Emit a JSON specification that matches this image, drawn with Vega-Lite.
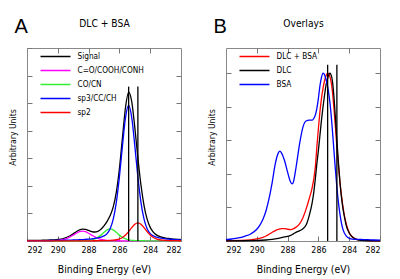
{
  "$schema": "https://vega.github.io/schema/vega-lite/v6.json",
  "background": "white",
  "padding": {"left": 8, "top": 16, "right": 0, "bottom": 0},
  "config": {
    "font": "DejaVu Sans Condensed, Liberation Sans",
    "view": {"stroke": "#888888", "strokeWidth": 1},
    "axis": {
      "domain": false, "grid": false, "tickColor": "#777777", "tickSize": -5, "tickWidth": 1,
      "labelFont": "DejaVu Sans Condensed, Liberation Sans", "titleFont": "DejaVu Sans Condensed, Liberation Sans",
      "labelFontSize": 8.8, "labelColor": "black", "titleFontSize": 10.4, "titleFontWeight": "normal", "titleColor": "black"
    },
    "legend": {
      "orient": "none", "title": null, "symbolType": "M-3,0H3", "symbolSize": 100, "symbolStrokeWidth": 1.5,
      "labelFont": "DejaVu Sans Condensed, Liberation Sans",
      "labelOffset": 16, "labelFontSize": 8.2, "labelColor": "black", "rowPadding": 4, "padding": 0
    },
    "title": {"font": "Liberation Sans", "fontSize": 20, "fontWeight": "normal", "anchor": "start", "frame": "bounds", "color": "black"}
  },
  "datasets": {
    "a": [
      {"e":292.0,"v":0.019,"s":"Signal"},{"e":291.8,"v":0.019,"s":"Signal"},{"e":291.6,"v":0.021,"s":"Signal"},{"e":291.4,"v":0.023,"s":"Signal"},{"e":291.2,"v":0.025,"s":"Signal"},{"e":291.0,"v":0.027,"s":"Signal"},{"e":290.8,"v":0.030,"s":"Signal"},{"e":290.6,"v":0.034,"s":"Signal"},{"e":290.4,"v":0.038,"s":"Signal"},{"e":290.2,"v":0.044,"s":"Signal"},{"e":290.0,"v":0.054,"s":"Signal"},{"e":289.8,"v":0.069,"s":"Signal"},{"e":289.6,"v":0.096,"s":"Signal"},{"e":289.4,"v":0.137,"s":"Signal"},{"e":289.2,"v":0.192,"s":"Signal"},{"e":289.0,"v":0.262,"s":"Signal"},{"e":288.8,"v":0.337,"s":"Signal"},{"e":288.6,"v":0.399,"s":"Signal"},{"e":288.4,"v":0.431,"s":"Signal"},{"e":288.2,"v":0.421,"s":"Signal"},{"e":288.0,"v":0.383,"s":"Signal"},{"e":287.8,"v":0.344,"s":"Signal"},{"e":287.6,"v":0.326,"s":"Signal"},{"e":287.4,"v":0.351,"s":"Signal"},{"e":287.2,"v":0.426,"s":"Signal"},{"e":287.0,"v":0.549,"s":"Signal"},{"e":286.8,"v":0.713,"s":"Signal"},{"e":286.6,"v":0.923,"s":"Signal"},{"e":286.4,"v":1.235,"s":"Signal"},{"e":286.2,"v":1.771,"s":"Signal"},{"e":286.0,"v":2.621,"s":"Signal"},{"e":285.8,"v":3.76,"s":"Signal"},{"e":285.6,"v":4.86,"s":"Signal"},{"e":285.4,"v":5.40,"s":"Signal"},{"e":285.2,"v":5.06,"s":"Signal"},{"e":285.0,"v":4.12,"s":"Signal"},{"e":284.8,"v":3.02,"s":"Signal"},{"e":284.6,"v":2.03,"s":"Signal"},{"e":284.4,"v":1.286,"s":"Signal"},{"e":284.2,"v":0.794,"s":"Signal"},{"e":284.0,"v":0.495,"s":"Signal"},{"e":283.8,"v":0.321,"s":"Signal"},{"e":283.6,"v":0.222,"s":"Signal"},{"e":283.4,"v":0.165,"s":"Signal"},{"e":283.2,"v":0.130,"s":"Signal"},{"e":283.0,"v":0.107,"s":"Signal"},{"e":282.8,"v":0.091,"s":"Signal"},{"e":282.6,"v":0.078,"s":"Signal"},{"e":282.4,"v":0.067,"s":"Signal"},{"e":282.2,"v":0.059,"s":"Signal"},{"e":282.0,"v":0.053,"s":"Signal"},
      {"e":292.0,"v":0.004,"s":"C=O/COOH/CONH"},{"e":291.8,"v":0.004,"s":"C=O/COOH/CONH"},{"e":291.6,"v":0.005,"s":"C=O/COOH/CONH"},{"e":291.4,"v":0.006,"s":"C=O/COOH/CONH"},{"e":291.2,"v":0.006,"s":"C=O/COOH/CONH"},{"e":291.0,"v":0.007,"s":"C=O/COOH/CONH"},{"e":290.8,"v":0.009,"s":"C=O/COOH/CONH"},{"e":290.6,"v":0.010,"s":"C=O/COOH/CONH"},{"e":290.4,"v":0.013,"s":"C=O/COOH/CONH"},{"e":290.2,"v":0.017,"s":"C=O/COOH/CONH"},{"e":290.0,"v":0.024,"s":"C=O/COOH/CONH"},{"e":289.8,"v":0.037,"s":"C=O/COOH/CONH"},{"e":289.6,"v":0.060,"s":"C=O/COOH/CONH"},{"e":289.4,"v":0.097,"s":"C=O/COOH/CONH"},{"e":289.2,"v":0.149,"s":"C=O/COOH/CONH"},{"e":289.0,"v":0.214,"s":"C=O/COOH/CONH"},{"e":288.8,"v":0.282,"s":"C=O/COOH/CONH"},{"e":288.6,"v":0.338,"s":"C=O/COOH/CONH"},{"e":288.4,"v":0.360,"s":"C=O/COOH/CONH"},{"e":288.2,"v":0.338,"s":"C=O/COOH/CONH"},{"e":288.0,"v":0.282,"s":"C=O/COOH/CONH"},{"e":287.8,"v":0.214,"s":"C=O/COOH/CONH"},{"e":287.6,"v":0.149,"s":"C=O/COOH/CONH"},{"e":287.4,"v":0.097,"s":"C=O/COOH/CONH"},{"e":287.2,"v":0.060,"s":"C=O/COOH/CONH"},{"e":287.0,"v":0.037,"s":"C=O/COOH/CONH"},{"e":286.8,"v":0.024,"s":"C=O/COOH/CONH"},{"e":286.6,"v":0.017,"s":"C=O/COOH/CONH"},{"e":286.4,"v":0.013,"s":"C=O/COOH/CONH"},{"e":286.2,"v":0.010,"s":"C=O/COOH/CONH"},{"e":286.0,"v":0.009,"s":"C=O/COOH/CONH"},{"e":285.8,"v":0.007,"s":"C=O/COOH/CONH"},{"e":285.6,"v":0.006,"s":"C=O/COOH/CONH"},{"e":285.4,"v":0.006,"s":"C=O/COOH/CONH"},{"e":285.2,"v":0.005,"s":"C=O/COOH/CONH"},{"e":285.0,"v":0.004,"s":"C=O/COOH/CONH"},{"e":284.8,"v":0.004,"s":"C=O/COOH/CONH"},{"e":284.6,"v":0.004,"s":"C=O/COOH/CONH"},{"e":284.4,"v":0.003,"s":"C=O/COOH/CONH"},{"e":284.2,"v":0.003,"s":"C=O/COOH/CONH"},{"e":284.0,"v":0.003,"s":"C=O/COOH/CONH"},{"e":283.8,"v":0.002,"s":"C=O/COOH/CONH"},{"e":283.6,"v":0.002,"s":"C=O/COOH/CONH"},{"e":283.4,"v":0.002,"s":"C=O/COOH/CONH"},{"e":283.2,"v":0.002,"s":"C=O/COOH/CONH"},{"e":283.0,"v":0.002,"s":"C=O/COOH/CONH"},{"e":282.8,"v":0.002,"s":"C=O/COOH/CONH"},{"e":282.6,"v":0.001,"s":"C=O/COOH/CONH"},{"e":282.4,"v":0.001,"s":"C=O/COOH/CONH"},{"e":282.2,"v":0.001,"s":"C=O/COOH/CONH"},{"e":282.0,"v":0.001,"s":"C=O/COOH/CONH"},
      {"e":292.0,"v":0.002,"s":"CO/CN"},{"e":291.0,"v":0.002,"s":"CO/CN"},{"e":290.6,"v":0.003,"s":"CO/CN"},{"e":290.2,"v":0.003,"s":"CO/CN"},{"e":290.0,"v":0.004,"s":"CO/CN"},{"e":289.8,"v":0.004,"s":"CO/CN"},{"e":289.6,"v":0.005,"s":"CO/CN"},{"e":289.4,"v":0.006,"s":"CO/CN"},{"e":289.2,"v":0.006,"s":"CO/CN"},{"e":289.0,"v":0.007,"s":"CO/CN"},{"e":288.8,"v":0.009,"s":"CO/CN"},{"e":288.6,"v":0.010,"s":"CO/CN"},{"e":288.4,"v":0.013,"s":"CO/CN"},{"e":288.2,"v":0.017,"s":"CO/CN"},{"e":288.0,"v":0.025,"s":"CO/CN"},{"e":287.8,"v":0.042,"s":"CO/CN"},{"e":287.6,"v":0.074,"s":"CO/CN"},{"e":287.4,"v":0.130,"s":"CO/CN"},{"e":287.2,"v":0.213,"s":"CO/CN"},{"e":287.0,"v":0.313,"s":"CO/CN"},{"e":286.8,"v":0.402,"s":"CO/CN"},{"e":286.6,"v":0.440,"s":"CO/CN"},{"e":286.4,"v":0.402,"s":"CO/CN"},{"e":286.2,"v":0.313,"s":"CO/CN"},{"e":286.0,"v":0.213,"s":"CO/CN"},{"e":285.8,"v":0.130,"s":"CO/CN"},{"e":285.6,"v":0.074,"s":"CO/CN"},{"e":285.4,"v":0.042,"s":"CO/CN"},{"e":285.2,"v":0.025,"s":"CO/CN"},{"e":285.0,"v":0.017,"s":"CO/CN"},{"e":284.8,"v":0.013,"s":"CO/CN"},{"e":284.6,"v":0.010,"s":"CO/CN"},{"e":284.4,"v":0.009,"s":"CO/CN"},{"e":284.2,"v":0.007,"s":"CO/CN"},{"e":284.0,"v":0.006,"s":"CO/CN"},{"e":283.8,"v":0.006,"s":"CO/CN"},{"e":283.6,"v":0.005,"s":"CO/CN"},{"e":283.4,"v":0.004,"s":"CO/CN"},{"e":283.2,"v":0.004,"s":"CO/CN"},{"e":283.0,"v":0.003,"s":"CO/CN"},{"e":282.6,"v":0.003,"s":"CO/CN"},{"e":282.4,"v":0.002,"s":"CO/CN"},{"e":282.0,"v":0.002,"s":"CO/CN"},
      {"e":292.0,"v":0.011,"s":"sp3/CC/CH"},{"e":291.8,"v":0.011,"s":"sp3/CC/CH"},{"e":291.6,"v":0.012,"s":"sp3/CC/CH"},{"e":291.4,"v":0.013,"s":"sp3/CC/CH"},{"e":291.2,"v":0.014,"s":"sp3/CC/CH"},{"e":291.0,"v":0.015,"s":"sp3/CC/CH"},{"e":290.8,"v":0.016,"s":"sp3/CC/CH"},{"e":290.6,"v":0.018,"s":"sp3/CC/CH"},{"e":290.4,"v":0.019,"s":"sp3/CC/CH"},{"e":290.2,"v":0.021,"s":"sp3/CC/CH"},{"e":290.0,"v":0.023,"s":"sp3/CC/CH"},{"e":289.8,"v":0.025,"s":"sp3/CC/CH"},{"e":289.6,"v":0.027,"s":"sp3/CC/CH"},{"e":289.4,"v":0.030,"s":"sp3/CC/CH"},{"e":289.2,"v":0.033,"s":"sp3/CC/CH"},{"e":289.0,"v":0.037,"s":"sp3/CC/CH"},{"e":288.8,"v":0.041,"s":"sp3/CC/CH"},{"e":288.6,"v":0.046,"s":"sp3/CC/CH"},{"e":288.4,"v":0.052,"s":"sp3/CC/CH"},{"e":288.2,"v":0.060,"s":"sp3/CC/CH"},{"e":288.0,"v":0.069,"s":"sp3/CC/CH"},{"e":287.8,"v":0.080,"s":"sp3/CC/CH"},{"e":287.6,"v":0.094,"s":"sp3/CC/CH"},{"e":287.4,"v":0.114,"s":"sp3/CC/CH"},{"e":287.2,"v":0.141,"s":"sp3/CC/CH"},{"e":287.0,"v":0.185,"s":"sp3/CC/CH"},{"e":286.8,"v":0.270,"s":"sp3/CC/CH"},{"e":286.6,"v":0.444,"s":"sp3/CC/CH"},{"e":286.4,"v":0.790,"s":"sp3/CC/CH"},{"e":286.2,"v":1.403,"s":"sp3/CC/CH"},{"e":286.0,"v":2.325,"s":"sp3/CC/CH"},{"e":285.8,"v":3.457,"s":"sp3/CC/CH"},{"e":285.6,"v":4.484,"s":"sp3/CC/CH"},{"e":285.4,"v":4.920,"s":"sp3/CC/CH"},{"e":285.2,"v":4.484,"s":"sp3/CC/CH"},{"e":285.0,"v":3.457,"s":"sp3/CC/CH"},{"e":284.8,"v":2.325,"s":"sp3/CC/CH"},{"e":284.6,"v":1.403,"s":"sp3/CC/CH"},{"e":284.4,"v":0.790,"s":"sp3/CC/CH"},{"e":284.2,"v":0.444,"s":"sp3/CC/CH"},{"e":284.0,"v":0.270,"s":"sp3/CC/CH"},{"e":283.8,"v":0.185,"s":"sp3/CC/CH"},{"e":283.6,"v":0.141,"s":"sp3/CC/CH"},{"e":283.4,"v":0.114,"s":"sp3/CC/CH"},{"e":283.2,"v":0.094,"s":"sp3/CC/CH"},{"e":283.0,"v":0.080,"s":"sp3/CC/CH"},{"e":282.8,"v":0.069,"s":"sp3/CC/CH"},{"e":282.6,"v":0.060,"s":"sp3/CC/CH"},{"e":282.4,"v":0.052,"s":"sp3/CC/CH"},{"e":282.2,"v":0.046,"s":"sp3/CC/CH"},{"e":282.0,"v":0.041,"s":"sp3/CC/CH"},
      {"e":292.0,"v":0.002,"s":"sp2"},{"e":291.4,"v":0.002,"s":"sp2"},{"e":291.2,"v":0.003,"s":"sp2"},{"e":290.0,"v":0.003,"s":"sp2"},{"e":289.6,"v":0.004,"s":"sp2"},{"e":289.0,"v":0.004,"s":"sp2"},{"e":288.8,"v":0.005,"s":"sp2"},{"e":288.6,"v":0.005,"s":"sp2"},{"e":288.4,"v":0.006,"s":"sp2"},{"e":288.2,"v":0.006,"s":"sp2"},{"e":288.0,"v":0.007,"s":"sp2"},{"e":287.8,"v":0.008,"s":"sp2"},{"e":287.6,"v":0.009,"s":"sp2"},{"e":287.4,"v":0.010,"s":"sp2"},{"e":287.2,"v":0.012,"s":"sp2"},{"e":287.0,"v":0.014,"s":"sp2"},{"e":286.8,"v":0.017,"s":"sp2"},{"e":286.6,"v":0.022,"s":"sp2"},{"e":286.4,"v":0.030,"s":"sp2"},{"e":286.2,"v":0.045,"s":"sp2"},{"e":286.0,"v":0.074,"s":"sp2"},{"e":285.8,"v":0.128,"s":"sp2"},{"e":285.6,"v":0.216,"s":"sp2"},{"e":285.4,"v":0.340,"s":"sp2"},{"e":285.2,"v":0.484,"s":"sp2"},{"e":285.0,"v":0.608,"s":"sp2"},{"e":284.8,"v":0.660,"s":"sp2"},{"e":284.6,"v":0.608,"s":"sp2"},{"e":284.4,"v":0.484,"s":"sp2"},{"e":284.2,"v":0.340,"s":"sp2"},{"e":284.0,"v":0.216,"s":"sp2"},{"e":283.8,"v":0.128,"s":"sp2"},{"e":283.6,"v":0.074,"s":"sp2"},{"e":283.4,"v":0.045,"s":"sp2"},{"e":283.2,"v":0.030,"s":"sp2"},{"e":283.0,"v":0.022,"s":"sp2"},{"e":282.8,"v":0.017,"s":"sp2"},{"e":282.6,"v":0.014,"s":"sp2"},{"e":282.4,"v":0.012,"s":"sp2"},{"e":282.2,"v":0.010,"s":"sp2"},{"e":282.0,"v":0.009,"s":"sp2"}
    ],
    "b": [
      {"e":292.0,"v":0.002,"s":"DLC + BSA"},{"e":291.0,"v":0.003,"s":"DLC + BSA"},{"e":290.4,"v":0.006,"s":"DLC + BSA"},{"e":290.0,"v":0.012,"s":"DLC + BSA"},{"e":289.6,"v":0.022,"s":"DLC + BSA"},{"e":289.4,"v":0.030,"s":"DLC + BSA"},{"e":289.2,"v":0.040,"s":"DLC + BSA"},{"e":289.0,"v":0.052,"s":"DLC + BSA"},{"e":288.8,"v":0.062,"s":"DLC + BSA"},{"e":288.6,"v":0.069,"s":"DLC + BSA"},{"e":288.4,"v":0.074,"s":"DLC + BSA"},{"e":288.2,"v":0.074,"s":"DLC + BSA"},{"e":288.0,"v":0.070,"s":"DLC + BSA"},{"e":287.8,"v":0.068,"s":"DLC + BSA"},{"e":287.6,"v":0.074,"s":"DLC + BSA"},{"e":287.4,"v":0.086,"s":"DLC + BSA"},{"e":287.2,"v":0.105,"s":"DLC + BSA"},{"e":287.0,"v":0.140,"s":"DLC + BSA"},{"e":286.8,"v":0.190,"s":"DLC + BSA"},{"e":286.6,"v":0.250,"s":"DLC + BSA"},{"e":286.4,"v":0.320,"s":"DLC + BSA"},{"e":286.3,"v":0.370,"s":"DLC + BSA"},{"e":286.2,"v":0.440,"s":"DLC + BSA"},{"e":286.1,"v":0.560,"s":"DLC + BSA"},{"e":286.0,"v":0.670,"s":"DLC + BSA"},{"e":285.9,"v":0.770,"s":"DLC + BSA"},{"e":285.8,"v":0.850,"s":"DLC + BSA"},{"e":285.7,"v":0.910,"s":"DLC + BSA"},{"e":285.6,"v":0.955,"s":"DLC + BSA"},{"e":285.5,"v":0.985,"s":"DLC + BSA"},{"e":285.4,"v":1.000,"s":"DLC + BSA"},{"e":285.3,"v":0.990,"s":"DLC + BSA"},{"e":285.2,"v":0.960,"s":"DLC + BSA"},{"e":285.1,"v":0.900,"s":"DLC + BSA"},{"e":285.0,"v":0.800,"s":"DLC + BSA"},{"e":284.9,"v":0.685,"s":"DLC + BSA"},{"e":284.8,"v":0.560,"s":"DLC + BSA"},{"e":284.7,"v":0.450,"s":"DLC + BSA"},{"e":284.6,"v":0.350,"s":"DLC + BSA"},{"e":284.5,"v":0.270,"s":"DLC + BSA"},{"e":284.4,"v":0.200,"s":"DLC + BSA"},{"e":284.3,"v":0.145,"s":"DLC + BSA"},{"e":284.2,"v":0.105,"s":"DLC + BSA"},{"e":284.0,"v":0.050,"s":"DLC + BSA"},{"e":283.8,"v":0.025,"s":"DLC + BSA"},{"e":283.6,"v":0.013,"s":"DLC + BSA"},{"e":283.4,"v":0.008,"s":"DLC + BSA"},{"e":283.0,"v":0.004,"s":"DLC + BSA"},{"e":282.5,"v":0.002,"s":"DLC + BSA"},{"e":282.0,"v":0.001,"s":"DLC + BSA"},
      {"e":292.0,"v":0.001,"s":"DLC"},{"e":290.0,"v":0.003,"s":"DLC"},{"e":289.4,"v":0.006,"s":"DLC"},{"e":289.0,"v":0.010,"s":"DLC"},{"e":288.6,"v":0.016,"s":"DLC"},{"e":288.2,"v":0.024,"s":"DLC"},{"e":287.8,"v":0.034,"s":"DLC"},{"e":287.6,"v":0.044,"s":"DLC"},{"e":287.4,"v":0.054,"s":"DLC"},{"e":287.2,"v":0.062,"s":"DLC"},{"e":287.0,"v":0.073,"s":"DLC"},{"e":286.8,"v":0.095,"s":"DLC"},{"e":286.6,"v":0.150,"s":"DLC"},{"e":286.4,"v":0.230,"s":"DLC"},{"e":286.3,"v":0.290,"s":"DLC"},{"e":286.2,"v":0.370,"s":"DLC"},{"e":286.1,"v":0.460,"s":"DLC"},{"e":286.0,"v":0.540,"s":"DLC"},{"e":285.9,"v":0.630,"s":"DLC"},{"e":285.8,"v":0.720,"s":"DLC"},{"e":285.7,"v":0.800,"s":"DLC"},{"e":285.6,"v":0.870,"s":"DLC"},{"e":285.5,"v":0.930,"s":"DLC"},{"e":285.4,"v":0.970,"s":"DLC"},{"e":285.3,"v":0.995,"s":"DLC"},{"e":285.25,"v":1.000,"s":"DLC"},{"e":285.2,"v":0.995,"s":"DLC"},{"e":285.1,"v":0.960,"s":"DLC"},{"e":285.0,"v":0.870,"s":"DLC"},{"e":284.9,"v":0.740,"s":"DLC"},{"e":284.8,"v":0.600,"s":"DLC"},{"e":284.7,"v":0.470,"s":"DLC"},{"e":284.6,"v":0.350,"s":"DLC"},{"e":284.5,"v":0.260,"s":"DLC"},{"e":284.4,"v":0.190,"s":"DLC"},{"e":284.3,"v":0.140,"s":"DLC"},{"e":284.2,"v":0.095,"s":"DLC"},{"e":284.0,"v":0.048,"s":"DLC"},{"e":283.8,"v":0.024,"s":"DLC"},{"e":283.6,"v":0.012,"s":"DLC"},{"e":283.4,"v":0.006,"s":"DLC"},{"e":283.0,"v":0.003,"s":"DLC"},{"e":282.0,"v":0.001,"s":"DLC"},
      {"e":292.0,"v":0.008,"s":"BSA"},{"e":291.6,"v":0.012,"s":"BSA"},{"e":291.2,"v":0.018,"s":"BSA"},{"e":290.8,"v":0.028,"s":"BSA"},{"e":290.4,"v":0.042,"s":"BSA"},{"e":290.0,"v":0.070,"s":"BSA"},{"e":289.8,"v":0.095,"s":"BSA"},{"e":289.6,"v":0.130,"s":"BSA"},{"e":289.4,"v":0.180,"s":"BSA"},{"e":289.2,"v":0.255,"s":"BSA"},{"e":289.0,"v":0.350,"s":"BSA"},{"e":288.8,"v":0.460,"s":"BSA"},{"e":288.6,"v":0.525,"s":"BSA"},{"e":288.5,"v":0.535,"s":"BSA"},{"e":288.4,"v":0.525,"s":"BSA"},{"e":288.2,"v":0.480,"s":"BSA"},{"e":288.0,"v":0.410,"s":"BSA"},{"e":287.8,"v":0.350,"s":"BSA"},{"e":287.7,"v":0.340,"s":"BSA"},{"e":287.6,"v":0.360,"s":"BSA"},{"e":287.5,"v":0.410,"s":"BSA"},{"e":287.4,"v":0.470,"s":"BSA"},{"e":287.2,"v":0.590,"s":"BSA"},{"e":287.0,"v":0.680,"s":"BSA"},{"e":286.8,"v":0.715,"s":"BSA"},{"e":286.6,"v":0.720,"s":"BSA"},{"e":286.4,"v":0.720,"s":"BSA"},{"e":286.3,"v":0.730,"s":"BSA"},{"e":286.2,"v":0.750,"s":"BSA"},{"e":286.1,"v":0.790,"s":"BSA"},{"e":286.0,"v":0.850,"s":"BSA"},{"e":285.9,"v":0.925,"s":"BSA"},{"e":285.8,"v":0.975,"s":"BSA"},{"e":285.7,"v":1.000,"s":"BSA"},{"e":285.6,"v":0.990,"s":"BSA"},{"e":285.5,"v":0.960,"s":"BSA"},{"e":285.4,"v":0.920,"s":"BSA"},{"e":285.3,"v":0.860,"s":"BSA"},{"e":285.2,"v":0.780,"s":"BSA"},{"e":285.1,"v":0.670,"s":"BSA"},{"e":285.0,"v":0.550,"s":"BSA"},{"e":284.9,"v":0.430,"s":"BSA"},{"e":284.8,"v":0.320,"s":"BSA"},{"e":284.7,"v":0.230,"s":"BSA"},{"e":284.6,"v":0.160,"s":"BSA"},{"e":284.5,"v":0.105,"s":"BSA"},{"e":284.4,"v":0.068,"s":"BSA"},{"e":284.2,"v":0.030,"s":"BSA"},{"e":284.0,"v":0.016,"s":"BSA"},{"e":283.6,"v":0.010,"s":"BSA"},{"e":283.2,"v":0.009,"s":"BSA"},{"e":282.8,"v":0.008,"s":"BSA"},{"e":282.4,"v":0.006,"s":"BSA"},{"e":282.0,"v":0.005,"s":"BSA"}
    ],
    "ra": [{"e":285.4,"lo":0,"hi":5.6},{"e":284.8,"lo":0,"hi":5.6}],
    "rb": [{"e":285.4,"lo":0,"hi":1.05},{"e":284.8,"lo":0,"hi":1.05}]
  },
  "spacing": 22,
  "resolve": {"scale": {"color": "independent"}, "legend": {"color": "independent"}},
  "hconcat": [
    {
      "width": 154, "height": 193,
      "title": {"text": "A", "dx": 6, "dy": 22.7},
      "resolve": {"axis": {"x": "independent", "y": "independent"}},
      "layer": [
        {
          "data": {"name": "a"},
          "mark": {"type": "line", "interpolate": "monotone", "strokeWidth": 1.3},
          "encoding": {
            "x": {"field": "e", "type": "quantitative", "scale": {"domain": [282, 292], "reverse": true, "nice": false, "zero": false},
                  "axis": {"orient": "bottom", "values": [282, 284, 286, 288, 290, 292], "title": "Binding Energy (eV)", "labelPadding": 9.5, "titlePadding": 10}},
            "y": {"field": "v", "type": "quantitative", "scale": {"domain": [0, 7], "nice": false, "zero": true},
                  "axis": {"orient": "left", "values": [0, 1, 2, 3, 4, 5, 6, 7], "labels": false, "title": "Arbitrary Units", "titleFontSize": 8.6, "titlePadding": 9, "titleY": 89}},
            "color": {"field": "s", "type": "nominal",
                      "scale": {"domain": ["Signal", "C=O/COOH/CONH", "CO/CN", "sp3/CC/CH", "sp2"], "range": ["#000000", "#ff00ff", "#33ee33", "#0000ff", "#ff0000"]},
                      "legend": {"legendX": 22.5, "legendY": 2.5}}
          }
        },
        {
          "data": {"name": "ra"},
          "mark": {"type": "rule", "color": "black", "strokeWidth": 1.3},
          "encoding": {
            "x": {"field": "e", "type": "quantitative", "scale": {"domain": [282, 292], "reverse": true, "nice": false, "zero": false},
                  "axis": {"orient": "top", "values": [284, 286, 288, 290], "labels": false, "title": "DLC + BSA", "titleFontSize": 10.2, "titlePadding": 19}},
            "y": {"field": "lo", "type": "quantitative", "scale": {"domain": [0, 7], "nice": false, "zero": true},
                  "axis": {"orient": "right", "values": [1, 2, 3, 4, 5, 6], "labels": false, "title": null}},
            "y2": {"field": "hi"}
          }
        }
      ]
    },
    {
      "width": 154, "height": 193,
      "title": {"text": "B", "dx": 6, "dy": 22.7},
      "resolve": {"axis": {"x": "independent", "y": "independent"}},
      "layer": [
        {
          "data": {"name": "b"},
          "mark": {"type": "line", "interpolate": "monotone", "strokeWidth": 1.3},
          "encoding": {
            "x": {"field": "e", "type": "quantitative", "scale": {"domain": [282, 292], "reverse": true, "nice": false, "zero": false},
                  "axis": {"orient": "bottom", "values": [282, 284, 286, 288, 290, 292], "title": "Binding Energy (eV)", "labelPadding": 9.5, "titlePadding": 10}},
            "y": {"field": "v", "type": "quantitative", "scale": {"domain": [0, 1.15], "nice": false, "zero": true},
                  "axis": {"orient": "left", "values": [0, 0.2, 0.4, 0.6, 0.8, 1.0], "labels": false, "title": "Arbitrary Units", "titleFontSize": 8.6, "titlePadding": 9, "titleY": 89}},
            "color": {"field": "s", "type": "nominal",
                      "scale": {"domain": ["DLC + BSA", "DLC", "BSA"], "range": ["#ff0000", "#000000", "#0000ff"]},
                      "legend": {"legendX": 22.5, "legendY": 2.5}}
          }
        },
        {
          "data": {"name": "rb"},
          "mark": {"type": "rule", "color": "black", "strokeWidth": 1.3},
          "encoding": {
            "x": {"field": "e", "type": "quantitative", "scale": {"domain": [282, 292], "reverse": true, "nice": false, "zero": false},
                  "axis": {"orient": "top", "values": [284, 286, 288, 290], "labels": false, "title": "Overlays", "titleFontSize": 10.2, "titlePadding": 19}},
            "y": {"field": "lo", "type": "quantitative", "scale": {"domain": [0, 1.15], "nice": false, "zero": true},
                  "axis": {"orient": "right", "values": [0.2, 0.4, 0.6, 0.8, 1.0], "labels": false, "title": null}},
            "y2": {"field": "hi"}
          }
        }
      ]
    }
  ]
}
